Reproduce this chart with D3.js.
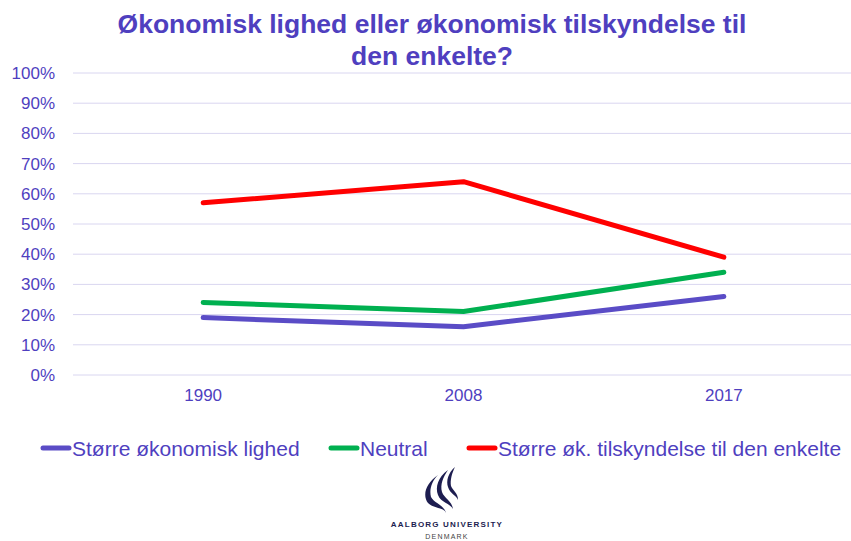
<!DOCTYPE html>
<html>
<head>
<meta charset="utf-8">
<script src="https://cdn.jsdelivr.net/npm/d3@7"></script>
<style>
  body { margin: 0; background: #fff; }
  text { font-family: "Liberation Sans", Arial, sans-serif; }
</style>
</head>
<body>
<svg class="chart" width="851" height="541"></svg>
<script>
// Data
const years = ["1990", "2008", "2017"];
const lighed = [19, 16, 26];
const neutral = [24, 21, 34];
const tilskyndelse = [57, 64, 39];
const yTicks = [0, 10, 20, 30, 40, 50, 60, 70, 80, 90, 100];
const seriesNames = ["Større økonomisk lighed", "Neutral", "Større øk. tilskyndelse til den enkelte"];
const colors = ["#5a4cc6", "#00b050", "#ff0000"];
const textColor = "#4f3fbf";

const svg = d3.select(".chart");

const x = d3.scaleBand()
    .domain(years)
    .range([73, 854]);

const y = d3.scaleLinear()
    .domain([0, 100])
    .range([375, 73]);

// title
svg.append("text")
    .attr("text-anchor", "middle")
    .attr("fill", textColor)
    .style("font-size", "26.5px")
    .style("font-weight", "bold")
    .selectAll("tspan")
    .data(["Økonomisk lighed eller økonomisk tilskyndelse til", "den enkelte?"])
    .enter().append("tspan")
    .attr("x", 432)
    .attr("y", (d, i) => 33 + i * 32)
    .text(d => d);

// gridlines
svg.selectAll(".grid")
    .data(yTicks)
    .enter().append("line")
    .attr("class", "grid")
    .attr("x1", 73)
    .attr("x2", 851)
    .attr("y1", d => y(d))
    .attr("y2", d => y(d))
    .attr("stroke", "#d9d6f0")
    .attr("stroke-width", 1);

// y axis
const yAxis = svg.append("g")
    .attr("transform", "translate(62,0)")
    .call(d3.axisLeft(y).tickValues(yTicks).tickFormat(d => d + "%").tickSize(0).tickPadding(7));
yAxis.select(".domain").remove();
yAxis.selectAll("text")
    .attr("fill", textColor)
    .style("font-size", "17px")
    .style("font-family", "'Liberation Sans', Arial, sans-serif");

// x axis
const xAxis = svg.append("g")
    .attr("transform", "translate(0,375)")
    .call(d3.axisBottom(x).tickSize(0).tickPadding(14));
xAxis.select(".domain").remove();
xAxis.selectAll("text")
    .attr("fill", textColor)
    .style("font-size", "17px")
    .style("font-family", "'Liberation Sans', Arial, sans-serif");

// lines
const line = d3.line()
    .x((d, i) => x(years[i]) + x.bandwidth() / 2)
    .y(d => y(d));

[lighed, neutral, tilskyndelse].forEach((s, i) => {
    svg.append("path")
        .datum(s)
        .attr("fill", "none")
        .attr("stroke", colors[i])
        .attr("stroke-width", 5)
        .attr("stroke-linecap", "round")
        .attr("stroke-linejoin", "round")
        .attr("d", line);
});

// legend
const legendX = [43, 331, 469];
const legend = svg.append("g").attr("transform", "translate(0,448)");
seriesNames.forEach((name, i) => {
    legend.append("line")
        .attr("x1", legendX[i]).attr("x2", legendX[i] + 26)
        .attr("y1", 0).attr("y2", 0)
        .attr("stroke", colors[i])
        .attr("stroke-width", 5)
        .attr("stroke-linecap", "round");
    legend.append("text")
        .attr("x", legendX[i] + 29)
        .attr("y", 8)
        .attr("fill", textColor)
        .style("font-size", "21px")
        .text(name);
});

// Aalborg University logo
const logo = svg.append("g").attr("transform", "translate(422,467)").attr("fill", "#1d1d50");
logo.append("path").attr("d", "M16,8 C4,16 0,28 6,36 C12,42 22,40 24,46 C22,38 12,36 9,30 C7,22 10,14 16,8 Z");
logo.append("path").attr("d", "M26,3 C16,10 13,20 16,28 C19,36 28,36 31,42 C30,34 22,31 20,25 C18,18 21,10 26,3 Z");
logo.append("path").attr("d", "M33,0 C26,6 24,14 26,20 C28,27 34,28 36,33 C36,26 31,24 29,19 C28,13 30,6 33,0 Z");
svg.append("text")
    .attr("x", 447).attr("y", 527)
    .attr("text-anchor", "middle")
    .attr("fill", "#1d1d50")
    .style("font-size", "8px")
    .style("font-weight", "bold")
    .style("letter-spacing", "1.2px")
    .text("AALBORG UNIVERSITY");
svg.append("text")
    .attr("x", 447).attr("y", 539)
    .attr("text-anchor", "middle")
    .attr("fill", "#444")
    .style("font-size", "7px")
    .style("letter-spacing", "1.2px")
    .text("DENMARK");
</script>
</body>
</html>
